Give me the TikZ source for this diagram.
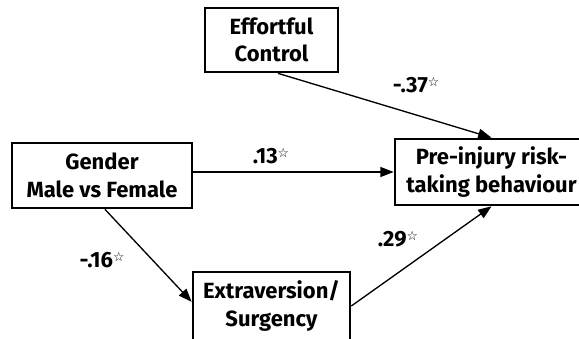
\documentclass[tikz,border=0pt]{standalone}
\usepackage{fontspec}
\setmainfont{Fira Sans}
\newfontfamily\symfont{DejaVu Sans}
\usetikzlibrary{arrows.meta}

\newcommand\sigstar{\raisebox{4.5pt}{\symfont\fontsize{9.5}{9.5}\selectfont ☆}}

\tikzset{every picture/.style={line width=0.75pt}}
\tikzset{
  varbox/.style={draw, line width=2pt, align=center, inner sep=0pt,
    font=\bfseries\fontsize{16.5}{20.5}\selectfont},
  coef/.style={inner sep=0pt, font=\bfseries\fontsize{16.5}{20}\selectfont},
  link/.style={-{Triangle[length=10pt,width=7.5pt]}, line width=1pt}
}

\begin{document}
\begin{tikzpicture}[x=0.75pt,y=0.75pt,yscale=-1,xscale=1]
	\clip (0,0) rectangle (579,339);

	%Shape: Rectangle [eff]
	\node [varbox, minimum width=99.75pt, minimum height=48pt] (eff) at (271.5,40) {Effortful\\Control};
	%Shape: Rectangle [gen]
	\node [varbox, minimum width=135pt, minimum height=48.75pt] (gen) at (102,175.5) {Gender\\Male vs Female};
	%Shape: Rectangle [pre]
	\node [varbox, minimum width=144.75pt, minimum height=49.5pt] (pre) at (491.5,172) {Pre-injury risk-\\taking behaviour};
	%Shape: Rectangle [ext]
	\node [varbox, minimum width=117.75pt, minimum height=51pt] (ext) at (271.5,306) {Extraversion/\\Surgency};

	%Straight Lines
	\draw [link] (eff.-79) -- (pre.north);
	%Straight Lines
	\draw [link] (gen.east |- pre.west) -- (pre.west);
	%Straight Lines
	\draw [link] (gen.-85) -- (ext.177);
	%Straight Lines
	\draw [link] (ext.east) -- (pre.south);

	% Text Node
	\node [coef] (c37) at (416,85) {-.37\sigstar};
	% Text Node
	\node [coef] (c13) at (271,156) {.13\sigstar};
	% Text Node
	\node [coef] (c16) at (102,260) {-.16\sigstar};
	% Text Node
	\node [coef] (c29) at (398,239) {.29\sigstar};

\end{tikzpicture}
\end{document}
